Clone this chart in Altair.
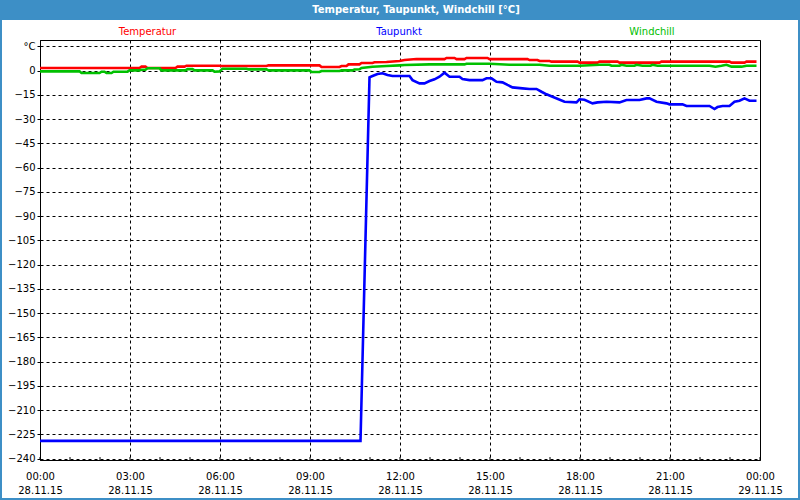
import altair as alt
import pandas as pd

DAY = "2015-11-28"
SERIES = ["Temperatur", "Taupunkt", "Windchill"]
COLORS = ["#ff0000", "#0000ff", "#00c000"]

temp_times = ["00:00","03:19","03:23","03:31","03:35","04:31","04:35","04:49","04:53","05:59",
              "06:03","07:33","07:37","09:19","09:23","09:59","10:03","10:13","10:17","10:39",
              "10:43","11:05","11:09","11:33","11:59","12:09","12:33","13:29","13:33","13:49",
              "13:53","14:09","14:13","14:55","14:59","16:15","16:19","16:35","16:39","16:59",
              "17:03","17:55","17:59","18:35","18:39","19:15","19:19","20:39","20:43","22:59",
              "23:03","23:29","23:33","23:53"]
temp_values = [1.7,1.7,2.5,2.5,1.7,1.7,2.5,2.5,3.1,3.1,
               2.9,2.9,3.3,3.3,2.3,2.3,2.9,2.9,3.9,3.9,
               4.8,4.8,5.2,5.4,6.0,6.6,7.2,7.2,7.9,7.9,
               7.2,7.2,7.9,7.9,7.2,7.2,6.6,6.6,6.0,6.0,
               5.6,5.6,5.0,5.0,5.6,5.6,5.0,5.0,5.6,5.6,
               5.0,5.0,5.6,5.6]

dew_times = ["00:00","10:41","10:59","11:05","11:15","11:25","11:35","11:45","12:19","12:25",
             "12:39","12:49","12:59","13:09","13:19","13:29","13:39","13:59","14:05","14:19",
             "14:45","14:53","15:03","15:13","15:25","15:35","15:45","16:05","16:19","16:33",
             "16:43","16:53","17:05","17:29","17:53","17:59","18:09","18:25","18:35","18:53",
             "19:19","19:33","19:59","20:13","20:19","20:33","20:53","20:59","21:25","21:33",
             "22:19","22:29","22:35","22:45","22:59","23:09","23:19","23:29","23:39","23:53"]
dew_values = [-229,-229,-4.1,-3.3,-2.0,-1.6,-2.7,-3.3,-3.3,-5.8,
              -7.8,-7.8,-6.4,-5.3,-3.7,-1.2,-3.7,-3.7,-5.1,-5.8,
              -5.8,-4.7,-4.7,-6.8,-7.2,-8.8,-10.3,-10.9,-11.3,-11.3,
              -13.0,-14.6,-16.1,-19.2,-19.6,-17.7,-18.0,-20.2,-19.6,-19.2,
              -19.6,-18.1,-18.1,-17.1,-17.1,-19.2,-20.2,-20.8,-20.8,-21.8,
              -21.8,-23.7,-22.5,-21.8,-21.8,-19.2,-18.6,-17.1,-18.6,-18.6]

wind_times = ["00:00","01:19","01:23","01:59","02:03","02:09","02:13","02:23","02:27","02:55",
              "02:59","03:19","03:23","03:31","03:35","03:59","04:03","04:51","04:55","05:05",
              "05:09","05:45","05:49","05:59","06:05","06:53","06:57","07:33","07:37","08:59",
              "09:03","09:19","09:23","09:59","10:03","10:25","10:29","10:39","10:43","11:05",
              "11:33","11:59","12:09","12:59","14:09","14:13","14:59","15:39","16:39","16:59",
              "17:59","18:39","18:59","19:03","19:19","19:23","19:33","19:49","19:53","20:05",
              "20:21","20:25","20:35","22:19","22:31","22:43","22:53","23:03","23:23","23:33",
              "23:53"]
wind_values = [-0.4,-0.4,-1.4,-1.4,-0.6,-0.6,-1.4,-1.4,-0.6,-0.6,
               0.2,0.2,0.6,0.6,1.5,1.5,0.2,0.2,1.0,1.0,
               0.2,0.2,-0.6,-0.4,1.2,1.2,0.8,0.8,0.2,0.2,
               -0.8,-0.8,-0.2,-0.2,0.2,0.2,0.8,0.9,1.7,2.5,
               2.9,3.3,3.5,3.9,3.9,4.3,4.3,3.7,3.7,3.1,
               3.1,3.7,3.7,3.1,3.1,3.7,3.1,3.1,3.7,3.1,
               3.1,3.7,3.1,3.1,2.5,3.1,3.7,2.5,2.5,3.1,
               3.1]

y_ticks = list(range(-240, 16, 15))
x_major_hours = list(range(0, 25, 3))
x_minor_hours = list(range(0, 25))

TITLE = "Temperatur, Taupunkt, Windchill [°C]"
FONT = "DejaVu Sans"
FRAME_BLUE = "#3d8fc6"


def stamp(h):
    return f"2015-11-{28 + h // 24}T{h % 24:02d}:00:00"


rows = []
for name, times, vals in [("Temperatur", temp_times, temp_values),
                          ("Taupunkt", dew_times, dew_values),
                          ("Windchill", wind_times, wind_values)]:
    for t, v in zip(times, vals):
        rows.append({"time": f"{DAY}T{t}:00", "value": v, "series": name})
df = pd.DataFrame(rows)

minor_df = pd.DataFrame({"time": [stamp(h) for h in x_minor_hours]})
one = pd.DataFrame({"k": [0]})

x_domain = [alt.DateTime(year=2015, month=11, date=28, hours=0),
            alt.DateTime(year=2015, month=11, date=29, hours=0)]
x_values = [alt.DateTime(year=2015, month=11, date=28 + h // 24, hours=h % 24) for h in x_major_hours]

x_scale = alt.Scale(domain=x_domain, nice=False)
y_scale = alt.Scale(domain=[-240.8, 19.0], nice=False, zero=False)

x_axis = alt.Axis(values=x_values, title=None, ticks=False, labelPadding=11,
                  labelExpr="[timeFormat(datum.value, '%H:%M'), timeFormat(datum.value, '%d.%m.%y')]",
                  labelFlush=False, labelOverlap=False, labelLineHeight=14,
                  grid=True, gridDash=[3, 3], gridColor="black", gridOpacity=1, gridWidth=1,
                  domainColor="black", labelFont=FONT, labelFontSize=10, labelColor="black")
y_axis = alt.Axis(values=y_ticks, title=None, format="d",
                  labelExpr="datum.value == 15 ? '°C' : datum.label",
                  tickSize=3, tickColor="black", labelPadding=2,
                  grid=True, gridDash=[3, 3], gridColor="black", gridOpacity=1, gridWidth=1,
                  domainColor="black", labelFont=FONT, labelFontSize=10, labelColor="black",
                  labelOverlap=False)

lines = alt.Chart(df).mark_line(strokeWidth=2.6, interpolate="linear").encode(
    x=alt.X("time:T", scale=x_scale, axis=x_axis),
    y=alt.Y("value:Q", scale=y_scale, axis=y_axis),
    color=alt.Color("series:N", scale=alt.Scale(domain=SERIES, range=COLORS), legend=None),
    detail="series:N",
)

minor_ticks = alt.Chart(minor_df).mark_rule(color="black", strokeWidth=1).encode(
    x=alt.X("time:T", scale=x_scale),
    y=alt.value(420), y2=alt.value(417),
)

title_bar = alt.Chart(one).mark_rect(color=FRAME_BLUE).encode(
    x=alt.value(-40), x2=alt.value(760), y=alt.value(-40), y2=alt.value(-20)
)
border = alt.Chart(one).mark_rect(filled=False, stroke=FRAME_BLUE, strokeWidth=2).encode(
    x=alt.value(-39), x2=alt.value(759), y=alt.value(-39), y2=alt.value(459)
)
title_text = alt.Chart(one).mark_text(font=FONT, fontSize=10, fontWeight="bold", color="white",
                                      align="center", baseline="middle").encode(
    x=alt.value(376), y=alt.value(-30), text=alt.value(TITLE)
)

legend_x = [107.5, 359, 612]
legend_layers = []
for name, col, lx in zip(SERIES, COLORS, legend_x):
    legend_layers.append(
        alt.Chart(one).mark_text(font=FONT, fontSize=10, color=col, align="center",
                                 baseline="middle").encode(
            x=alt.value(lx), y=alt.value(-8), text=alt.value(name)
        )
    )

chart = alt.layer(title_bar, border, lines, minor_ticks, title_text, *legend_layers).properties(
    width=720, height=420,
    autosize=alt.AutoSizeParams(type="none"),
    padding={"left": 40, "top": 40, "right": 40, "bottom": 40},
    background="white",
).configure_view(stroke="black", strokeWidth=1)

chart.save("out.html", embed_options={"renderer": "svg", "actions": False})
